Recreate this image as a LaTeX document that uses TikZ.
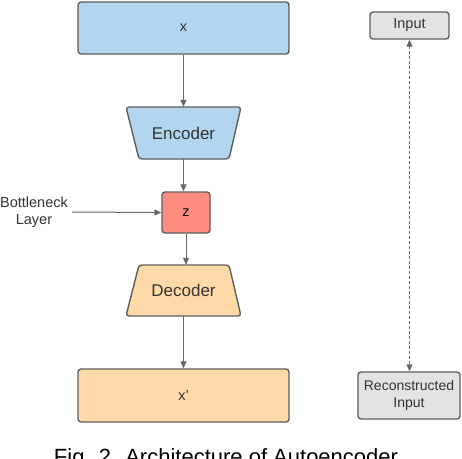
\documentclass[tikz,border=0pt]{standalone}
\usepackage{fontspec}
\setmainfont{Liberation Sans}
\usetikzlibrary{arrows.meta}
\definecolor{bluef}{HTML}{B2D6F0}
\definecolor{redf}{HTML}{FF8C80}
\definecolor{orangef}{HTML}{FFDAA8}
\definecolor{greyf}{HTML}{E3E3E3}
\definecolor{edge}{HTML}{5E5E5E}
\definecolor{txt}{HTML}{333333}
\definecolor{arr}{HTML}{666666}
\begin{document}
\begin{tikzpicture}[x=1pt,y=-1pt,
  box/.style={draw=edge, line width=1.4pt, rounded corners=3pt, inner sep=0pt, text=txt},
  trap/.style={draw=edge, line width=1.4pt, rounded corners=3pt},
  lbl/.style={inner sep=0pt, text=txt},
  conn/.style={draw=arr, line width=1pt, -{Triangle[length=7pt,width=6pt]}},
  dconn/.style={draw=arr, line width=1pt, dash pattern=on 3pt off 2pt, {Triangle[length=7pt,width=6pt]}-{Triangle[length=7pt,width=6pt]}},
  f14/.style={font=\fontsize{14.5}{17}\selectfont},
  f17/.style={font=\fontsize{17}{20}\selectfont}]
\useasboundingbox (0,0) rectangle (462,458);
% main column
\node[box, f14, fill=bluef, minimum width=211pt, minimum height=52pt] (x) at (183.5,28) {x};
\draw[trap, fill=bluef] (126,107) -- (241,107) -- (229,159) -- (139,159) -- cycle;
\node[lbl, f17, minimum width=90pt, minimum height=52pt] (enc) at (183.5,133) {Encoder};
\node[box, f14, fill=redf, text=black, minimum width=48pt, minimum height=41pt] (z) at (186,212.5) {z};
\draw[trap, fill=orangef] (139,265) -- (229,265) -- (241,316) -- (126,316) -- cycle;
\node[lbl, f17, minimum width=90pt, minimum height=51pt] (dec) at (183.5,290.5) {Decoder};
\node[box, f14, fill=orangef, minimum width=211pt, minimum height=53pt] (xp) at (183.5,395.5) {x'};
\node[lbl, f14, align=center, inner sep=4pt] (bn) at (34,212) {Bottleneck\\Layer};
% right column
\node[box, f14, fill=greyf, minimum width=79pt, minimum height=27pt] (in) at (409.5,25.5) {Input};
\node[box, font=\fontsize{14}{17}\selectfont, fill=greyf, align=center, minimum width=102pt, minimum height=47pt] (rec) at (409,395.5) {Reconstructed\\Input};
% connectors
\draw[conn] (x.south) -- (enc.north);
\draw[conn] (enc.south) -- (enc.south |- z.north);
\draw[conn] (bn.east) -- (z.west);
\draw[conn] (z.south) -- (z.south |- dec.north);
\draw[conn] (dec.south) -- (xp.north);
\draw[dconn] (in.south) -- (in.south |- rec.north);
% caption (cut by the frame)
\node[anchor=base, inner sep=0pt, text=black, font=\fontsize{22}{26}\selectfont] (cap) at (226,464) {Fig. 2. Architecture of Autoencoder};
\end{tikzpicture}
\end{document}
